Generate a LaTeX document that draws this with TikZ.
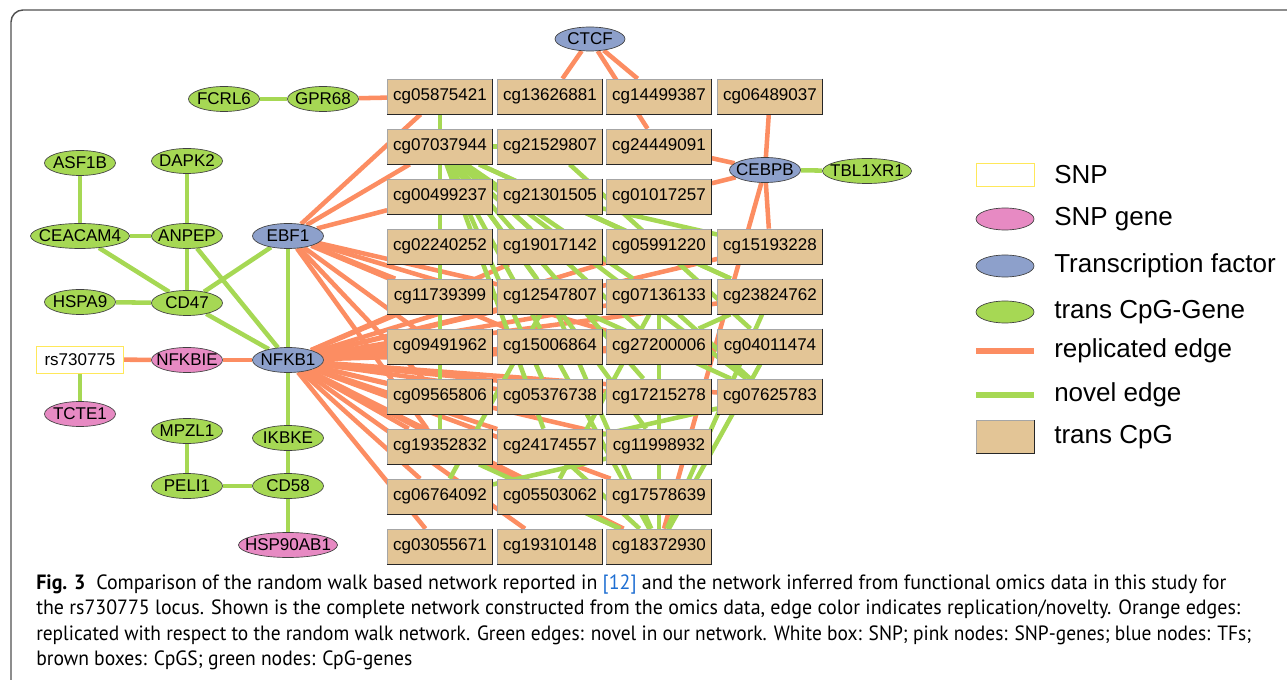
\documentclass[tikz,border=0pt]{standalone}
\usepackage{fontspec}
\usepackage{graphicx}
\setmainfont{Liberation Sans}
\newfontfamily\capfont{PT Sans}
\usetikzlibrary{shapes.geometric,backgrounds}
\definecolor{cpgfill}{RGB}{227,197,150}
\definecolor{tfblue}{RGB}{141,160,203}
\definecolor{genegreen}{RGB}{166,216,84}
\definecolor{snppink}{RGB}{231,138,195}
\definecolor{edgeor}{RGB}{252,141,98}
\definecolor{edgegr}{RGB}{166,216,84}
\definecolor{snpyel}{RGB}{255,232,90}
\definecolor{framegray}{RGB}{80,80,80}
\definecolor{refblue}{RGB}{30,110,210}
\newcommand{\zt}[1]{\makebox[0pt]{#1}}
\begin{document}
\begin{tikzpicture}[x=0.75pt,y=-0.75pt,
  nodefont/.style={font=\fontsize{12.75}{14}\selectfont},
  cpg/.style={rectangle,fill=cpgfill,draw=black!35,line width=0.5pt,minimum width=78.75pt,minimum height=26.25pt,inner sep=0pt,nodefont},
  oval/.style={ellipse,draw=black!75,line width=0.5pt,inner sep=0pt,minimum width=53.25pt,minimum height=18.75pt,nodefont},
  tf/.style={oval,fill=tfblue},
  gene/.style={oval,fill=genegreen},
  sgene/.style={oval,fill=snppink},
  snpbox/.style={rectangle,draw=snpyel,fill=white,line width=0.6pt,minimum width=65.25pt,minimum height=20.25pt,inner sep=0pt,nodefont},
  rep/.style={draw=edgeor,line width=3.4pt},
  nov/.style={draw=edgegr,line width=3.4pt},
  legline/.style={line width=4.2pt},
  legtext/.style={anchor=west,inner sep=0pt,font=\fontsize{19.5}{22}\selectfont},
  capline/.style={anchor=base west,inner sep=0pt}
]
\useasboundingbox (0,0) rectangle (1287,680);
\clip (0,0) rectangle (1287,680);
% frame
\draw[framegray,line width=1.1pt,rounded corners=9pt] (11,700) -- (11,10) -- (1310,10);

% CpG boxes
\node[cpg] (c0587) at (440,96.5) {cg05875421};
\node[cpg] (c1362) at (550,96.5) {cg13626881};
\node[cpg] (c1449) at (659,96.5) {cg14499387};
\node[cpg] (c0648) at (770,96.5) {cg06489037};
\node[cpg] (c0703) at (440,146.5) {cg07037944};
\node[cpg] (c2152) at (550,146.5) {cg21529807};
\node[cpg] (c2444) at (659,146.5) {cg24449091};
\node[cpg] (c0049) at (440,196.5) {cg00499237};
\node[cpg] (c2130) at (550,196.5) {cg21301505};
\node[cpg] (c0101) at (659,196.5) {cg01017257};
\node[cpg] (c0224) at (440,246.5) {cg02240252};
\node[cpg] (c1901) at (550,246.5) {cg19017142};
\node[cpg] (c0599) at (659,246.5) {cg05991220};
\node[cpg] (c1519) at (770,246.5) {cg15193228};
\node[cpg] (c1173) at (440,296.5) {cg11739399};
\node[cpg] (c1254) at (550,296.5) {cg12547807};
\node[cpg] (c0713) at (659,296.5) {cg07136133};
\node[cpg] (c2382) at (770,296.5) {cg23824762};
\node[cpg] (c0949) at (440,346.5) {cg09491962};
\node[cpg] (c1500) at (550,346.5) {cg15006864};
\node[cpg] (c2720) at (659,346.5) {cg27200006};
\node[cpg] (c0401) at (770,346.5) {cg04011474};
\node[cpg] (c0956) at (440,396.5) {cg09565806};
\node[cpg] (c0537) at (550,396.5) {cg05376738};
\node[cpg] (c1721) at (659,396.5) {cg17215278};
\node[cpg] (c0762) at (770,396.5) {cg07625783};
\node[cpg] (c1935) at (440,446.5) {cg19352832};
\node[cpg] (c2417) at (550,446.5) {cg24174557};
\node[cpg] (c1199) at (659,446.5) {cg11998932};
\node[cpg] (c0676) at (440,496.5) {cg06764092};
\node[cpg] (c0550) at (550,496.5) {cg05503062};
\node[cpg] (c1757) at (659,496.5) {cg17578639};
\node[cpg] (c0305) at (440,546.5) {cg03055671};
\node[cpg] (c1931) at (550,546.5) {cg19310148};
\node[cpg] (c1837) at (659,546.5) {cg18372930};
\foreach \n in {c0587,c1362,c1449,c0648,c0703,c2152,c2444,c0049,c2130,c0101,c0224,c1901,c0599,c1519,c1173,c1254,c0713,c2382,c0949,c1500,c2720,c0401,c0956,c0537,c1721,c0762,c1935,c2417,c1199,c0676,c0550,c1757,c0305,c1931,c1837}
  \draw[black!85,line width=0.6pt] (\n.north east) -- (\n.south east) -- (\n.south west);

% ellipse nodes
\node[tf, minimum width=52.5pt, minimum height=18pt] (ctcf) at (590,39) {\zt{CTCF}};
\node[tf] (cebpb) at (765,170) {\zt{CEBPB}};
\node[gene, minimum width=66.75pt] (tbl) at (867,171) {\zt{TBL1XR1}};
\node[gene] (fcrl6) at (224,99) {\zt{FCRL6}};
\node[gene] (gpr68) at (323,99) {\zt{GPR68}};
\node[gene] (asf1b) at (80,163) {\zt{ASF1B}};
\node[gene] (dapk2) at (187,161) {\zt{DAPK2}};
\node[gene, minimum width=74.25pt] (ceacam4) at (80,236) {\zt{CEACAM4}};
\node[gene] (anpep) at (187,236) {\zt{ANPEP}};
\node[tf] (ebf1) at (288,236) {\zt{EBF1}};
\node[gene] (hspa9) at (80,302) {\zt{HSPA9}};
\node[gene] (cd47) at (187,303) {\zt{CD47}};
\node[snpbox] (rs) at (80,359.5) {rs730775};
\node[sgene] (nfkbie) at (187,360) {\zt{NFKBIE}};
\node[tf] (nfkb1) at (288,360) {\zt{NFKB1}};
\node[sgene] (tcte1) at (80,414) {\zt{TCTE1}};
\node[gene] (mpzl1) at (187,431) {\zt{MPZL1}};
\node[gene] (ikbke) at (288,438) {\zt{IKBKE}};
\node[gene] (peli1) at (187,486) {\zt{PELI1}};
\node[gene] (cd58) at (288,486) {\zt{CD58}};
\node[sgene, minimum width=74.25pt] (hsp) at (288,545) {\zt{HSP90AB1}};

\begin{pgfonlayer}{background}
% gene-level edges
\draw[nov] (fcrl6) -- (gpr68);
\draw[rep] (gpr68) -- (c0587);
\draw[nov] (asf1b) -- (ceacam4);
\draw[nov] (dapk2) -- (anpep);
\draw[nov] (ceacam4) -- (anpep);
\draw[nov] (ceacam4) -- (cd47);
\draw[nov] (anpep) -- (cd47);
\draw[nov] (anpep) -- (nfkb1);
\draw[nov] (hspa9) -- (cd47);
\draw[nov] (cd47) -- (ebf1);
\draw[nov] (cd47) -- (nfkb1);
\draw[nov] (ebf1) -- (nfkb1);
\draw[rep] (rs) -- (nfkbie);
\draw[rep] (nfkbie) -- (nfkb1);
\draw[nov] (rs) -- (tcte1);
\draw[nov] (mpzl1) -- (peli1);
\draw[nov] (peli1) -- (cd58);
\draw[nov] (nfkb1) -- (ikbke);
\draw[nov] (ikbke) -- (cd58);
\draw[nov] (cd58) -- (hsp);
\draw[nov] (cebpb) -- (tbl);
% TF edges
\foreach \t in {c1362,c1449,c2444} \draw[rep] (ctcf) -- (\t);
\foreach \t in {c2444,c0101,c0648,c1519,c1837} \draw[rep] (cebpb) -- (\t);
\foreach \t in {c0587,c0703,c0049,c1173,c1254,c0949,c1500,c2720,c0956,c1935}
  \draw[rep] (ebf1) -- (\t);
\foreach \t in {c1901,c0599,c1519,c1173,c1254,c0713,c2382,c0949,c1500,c2720,c0401,c0956,c0537,c1721,c0762,c1935,c2417,c1199,c0676,c0550,c1757,c0305,c1931,c1837}
  \draw[rep] (nfkb1) -- (\t);
% CpG-CpG edges
\draw[nov] (c0587) -- (c0703);
\draw[nov] (c0703) -- (c2152);
\foreach \t in {c1935,c1901,c1254,c1500,c0537,c2417,c0713,c2720,c1721,c1199,c0599,c2382,c0762}
  \draw[nov] (c0703) -- (\t);
\draw[nov] (c2152) -- (c0401);
\draw[nov] (c2130) -- (c2382);
\draw[nov] (c2130) -- (c1519);
\draw[nov] (c0713) -- (c1837);
\foreach \t in {c0550,c2417,c1935,c2382,c0401,c1500,c1254}
  \draw[nov] (c1837) -- (\t);
\draw[nov] (c2382) -- (c2720);
\draw[nov] (c0713) -- (c0762);
\draw[nov] (c2417) -- (c0762);
\draw[nov] (c0550) -- (c0713);
\draw[nov] (c0676) -- (c1254);
\draw[nov] (c0676) -- (c1199);
\draw[nov] (c1254) -- (c0762);
\end{pgfonlayer}

% legend
\node[rectangle,draw=snpyel,line width=0.6pt,minimum width=43.5pt,minimum height=17.25pt,inner sep=0pt] (lsnp) at (1005,175) {};
\node[legtext] (tsnp) at (1054,175) {SNP};
\node[sgene,minimum width=43.5pt,minimum height=16.5pt] (lsg) at (1005,219) {};
\node[legtext] (tsg) at (1054,219) {SNP gene};
\node[tf,minimum width=43.5pt,minimum height=16.5pt] (ltf) at (1005,266) {};
\node[legtext] (ttf) at (1054,266) {Transcription factor};
\node[gene,minimum width=43.5pt,minimum height=16.5pt] (lgn) at (1005,312) {};
\node[legtext] (tgn) at (1054,312) {trans CpG-Gene};
\coordinate (lr1) at (976,351); \coordinate (lr2) at (1034,351);
\draw[rep,legline] (lr1) -- (lr2);
\node[legtext] (trep) at (1054,351) {replicated edge};
\coordinate (ln1) at (976,395); \coordinate (ln2) at (1034,395);
\draw[nov,legline] (ln1) -- (ln2);
\node[legtext] (tnov) at (1054,395) {novel edge};
\node[rectangle,fill=cpgfill,draw=black!35,line width=0.5pt,minimum width=43.5pt,minimum height=24.75pt,inner sep=0pt] (lcpg) at (1005,437) {};
\draw[black!85,line width=0.6pt] (lcpg.north east) -- (lcpg.south east) -- (lcpg.south west);
\node[legtext] (tcpg) at (1054,437) {trans CpG};

% caption
\node[capline] (cap1) at (36,589) {\resizebox{892.5pt}{\height}{\capfont\fontsize{15.5}{17}\selectfont\textbf{Fig. 3}\hspace{0.55em}Comparison of the random walk based network reported in {\color{refblue}[12]} and the network inferred from functional omics data in this study for}};
\node[capline] (cap2) at (36,614.5) {\resizebox{903pt}{\height}{\capfont\fontsize{15.5}{17}\selectfont the rs730775 locus. Shown is the complete network constructed from the omics data, edge color indicates replication/novelty. Orange edges:}};
\node[capline] (cap3) at (36,640) {\resizebox{911.25pt}{\height}{\capfont\fontsize{15.5}{17}\selectfont replicated with respect to the random walk network. Green edges: novel in our network. White box: SNP; pink nodes: SNP-genes; blue nodes: TFs;}};
\node[capline] (cap4) at (36,665.5) {\resizebox{282pt}{\height}{\capfont\fontsize{15.5}{17}\selectfont brown boxes: CpGS; green nodes: CpG-genes}};
\end{tikzpicture}
\end{document}
